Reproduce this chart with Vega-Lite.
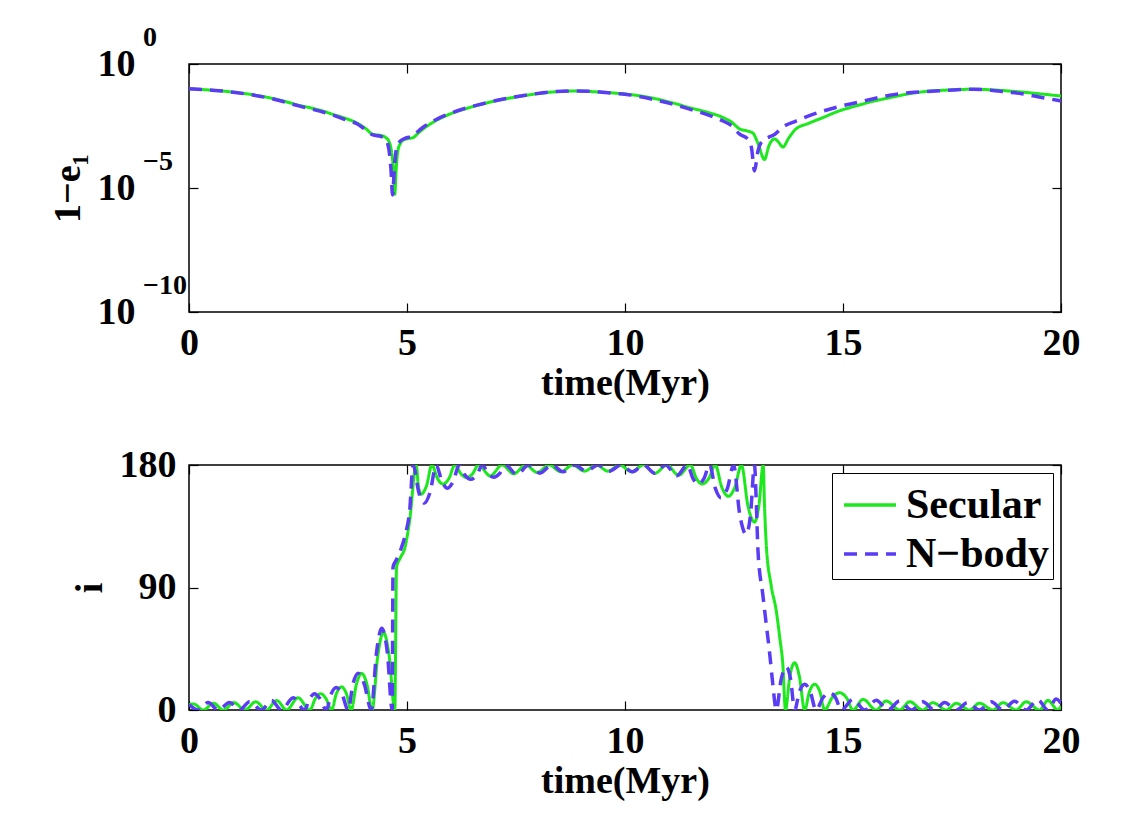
{
"$schema": "https://vega.github.io/schema/vega-lite/v6.json",
"background": "white",
"padding": {"left": 48, "top": 23, "right": 5, "bottom": 5},
"datasets": {
"exps": [{"time":0,"log_1me":0,"exp":"0"},{"time":0,"log_1me":-5,"exp":"−5"},{"time":0,"log_1me":-10,"exp":"−10"}],
"e": [
{"time":0,"log_1me":-1.0,"series":"Secular"},{"time":0.7,"log_1me":-1.08,"series":"Secular"},{"time":1.39,"log_1me":-1.22,"series":"Secular"},{"time":2.0,"log_1me":-1.42,"series":"Secular"},{"time":2.54,"log_1me":-1.67,"series":"Secular"},{"time":3.0,"log_1me":-1.86,"series":"Secular"},{"time":3.3,"log_1me":-2.03,"series":"Secular"},{"time":3.6,"log_1me":-2.2,"series":"Secular"},{"time":3.84,"log_1me":-2.37,"series":"Secular"},{"time":4.05,"log_1me":-2.6,"series":"Secular"},{"time":4.22,"log_1me":-2.84,"series":"Secular"},{"time":4.4,"log_1me":-2.88,"series":"Secular"},{"time":4.5,"log_1me":-2.95,"series":"Secular"},{"time":4.58,"log_1me":-3.1,"series":"Secular"},{"time":4.65,"log_1me":-3.6,"series":"Secular"},{"time":4.7,"log_1me":-4.5,"series":"Secular"},{"time":4.72,"log_1me":-5.25,"series":"Secular"},{"time":4.75,"log_1me":-4.3,"series":"Secular"},{"time":4.79,"log_1me":-3.5,"series":"Secular"},{"time":4.85,"log_1me":-3.2,"series":"Secular"},{"time":4.91,"log_1me":-3.07,"series":"Secular"},{"time":5.05,"log_1me":-3.0,"series":"Secular"},{"time":5.14,"log_1me":-2.97,"series":"Secular"},{"time":5.25,"log_1me":-2.8,"series":"Secular"},{"time":5.37,"log_1me":-2.62,"series":"Secular"},{"time":5.6,"log_1me":-2.35,"series":"Secular"},{"time":5.98,"log_1me":-2.02,"series":"Secular"},{"time":6.35,"log_1me":-1.8,"series":"Secular"},{"time":6.74,"log_1me":-1.61,"series":"Secular"},{"time":7.1,"log_1me":-1.46,"series":"Secular"},{"time":7.5,"log_1me":-1.33,"series":"Secular"},{"time":7.9,"log_1me":-1.22,"series":"Secular"},{"time":8.27,"log_1me":-1.14,"series":"Secular"},{"time":8.88,"log_1me":-1.09,"series":"Secular"},{"time":9.3,"log_1me":-1.12,"series":"Secular"},{"time":9.8,"log_1me":-1.18,"series":"Secular"},{"time":10.4,"log_1me":-1.3,"series":"Secular"},{"time":10.7,"log_1me":-1.4,"series":"Secular"},{"time":11.1,"log_1me":-1.57,"series":"Secular"},{"time":11.48,"log_1me":-1.76,"series":"Secular"},{"time":11.9,"log_1me":-1.95,"series":"Secular"},{"time":12.25,"log_1me":-2.16,"series":"Secular"},{"time":12.45,"log_1me":-2.35,"series":"Secular"},{"time":12.63,"log_1me":-2.62,"series":"Secular"},{"time":12.8,"log_1me":-2.7,"series":"Secular"},{"time":12.93,"log_1me":-2.78,"series":"Secular"},{"time":13.05,"log_1me":-3.2,"series":"Secular"},{"time":13.2,"log_1me":-3.85,"series":"Secular"},{"time":13.3,"log_1me":-3.3,"series":"Secular"},{"time":13.43,"log_1me":-3.02,"series":"Secular"},{"time":13.52,"log_1me":-3.15,"series":"Secular"},{"time":13.62,"log_1me":-3.35,"series":"Secular"},{"time":13.75,"log_1me":-3.0,"series":"Secular"},{"time":13.92,"log_1me":-2.62,"series":"Secular"},{"time":14.2,"log_1me":-2.4,"series":"Secular"},{"time":14.54,"log_1me":-2.16,"series":"Secular"},{"time":14.9,"log_1me":-1.9,"series":"Secular"},{"time":15.3,"log_1me":-1.69,"series":"Secular"},{"time":15.7,"log_1me":-1.5,"series":"Secular"},{"time":16.07,"log_1me":-1.36,"series":"Secular"},{"time":16.45,"log_1me":-1.22,"series":"Secular"},{"time":16.83,"log_1me":-1.12,"series":"Secular"},{"time":17.4,"log_1me":-1.05,"series":"Secular"},{"time":17.98,"log_1me":-1.02,"series":"Secular"},{"time":18.4,"log_1me":-1.04,"series":"Secular"},{"time":18.74,"log_1me":-1.08,"series":"Secular"},{"time":19.1,"log_1me":-1.13,"series":"Secular"},{"time":19.5,"log_1me":-1.2,"series":"Secular"},{"time":20.0,"log_1me":-1.29,"series":"Secular"},
{"time":0,"log_1me":-1.0,"series":"N−body"},{"time":0.7,"log_1me":-1.08,"series":"N−body"},{"time":1.39,"log_1me":-1.23,"series":"N−body"},{"time":2.0,"log_1me":-1.44,"series":"N−body"},{"time":2.54,"log_1me":-1.7,"series":"N−body"},{"time":3.0,"log_1me":-1.9,"series":"N−body"},{"time":3.3,"log_1me":-2.06,"series":"N−body"},{"time":3.6,"log_1me":-2.25,"series":"N−body"},{"time":3.84,"log_1me":-2.4,"series":"N−body"},{"time":4.05,"log_1me":-2.65,"series":"N−body"},{"time":4.22,"log_1me":-2.86,"series":"N−body"},{"time":4.4,"log_1me":-2.92,"series":"N−body"},{"time":4.5,"log_1me":-3.0,"series":"N−body"},{"time":4.58,"log_1me":-3.4,"series":"N−body"},{"time":4.63,"log_1me":-4.2,"series":"N−body"},{"time":4.67,"log_1me":-5.28,"series":"N−body"},{"time":4.71,"log_1me":-4.2,"series":"N−body"},{"time":4.76,"log_1me":-3.4,"series":"N−body"},{"time":4.85,"log_1me":-3.1,"series":"N−body"},{"time":4.95,"log_1me":-3.0,"series":"N−body"},{"time":5.05,"log_1me":-2.95,"series":"N−body"},{"time":5.14,"log_1me":-2.9,"series":"N−body"},{"time":5.25,"log_1me":-2.72,"series":"N−body"},{"time":5.37,"log_1me":-2.55,"series":"N−body"},{"time":5.6,"log_1me":-2.3,"series":"N−body"},{"time":5.98,"log_1me":-2.0,"series":"N−body"},{"time":6.35,"log_1me":-1.78,"series":"N−body"},{"time":6.74,"log_1me":-1.6,"series":"N−body"},{"time":7.1,"log_1me":-1.45,"series":"N−body"},{"time":7.5,"log_1me":-1.32,"series":"N−body"},{"time":7.9,"log_1me":-1.21,"series":"N−body"},{"time":8.27,"log_1me":-1.13,"series":"N−body"},{"time":8.88,"log_1me":-1.09,"series":"N−body"},{"time":9.3,"log_1me":-1.11,"series":"N−body"},{"time":9.8,"log_1me":-1.19,"series":"N−body"},{"time":10.0,"log_1me":-1.22,"series":"N−body"},{"time":10.7,"log_1me":-1.45,"series":"N−body"},{"time":11.1,"log_1me":-1.62,"series":"N−body"},{"time":11.48,"log_1me":-1.82,"series":"N−body"},{"time":11.9,"log_1me":-2.05,"series":"N−body"},{"time":12.25,"log_1me":-2.3,"series":"N−body"},{"time":12.45,"log_1me":-2.5,"series":"N−body"},{"time":12.63,"log_1me":-2.83,"series":"N−body"},{"time":12.8,"log_1me":-3.0,"series":"N−body"},{"time":12.9,"log_1me":-3.37,"series":"N−body"},{"time":12.97,"log_1me":-4.31,"series":"N−body"},{"time":13.05,"log_1me":-3.5,"series":"N−body"},{"time":13.15,"log_1me":-3.1,"series":"N−body"},{"time":13.3,"log_1me":-2.95,"series":"N−body"},{"time":13.43,"log_1me":-2.84,"series":"N−body"},{"time":13.62,"log_1me":-2.54,"series":"N−body"},{"time":13.92,"log_1me":-2.3,"series":"N−body"},{"time":14.2,"log_1me":-2.1,"series":"N−body"},{"time":14.54,"log_1me":-1.9,"series":"N−body"},{"time":14.9,"log_1me":-1.72,"series":"N−body"},{"time":15.3,"log_1me":-1.56,"series":"N−body"},{"time":15.7,"log_1me":-1.4,"series":"N−body"},{"time":16.07,"log_1me":-1.26,"series":"N−body"},{"time":16.45,"log_1me":-1.17,"series":"N−body"},{"time":16.83,"log_1me":-1.12,"series":"N−body"},{"time":17.4,"log_1me":-1.06,"series":"N−body"},{"time":17.98,"log_1me":-1.02,"series":"N−body"},{"time":18.4,"log_1me":-1.06,"series":"N−body"},{"time":18.74,"log_1me":-1.13,"series":"N−body"},{"time":19.1,"log_1me":-1.2,"series":"N−body"},{"time":19.5,"log_1me":-1.33,"series":"N−body"},{"time":20.0,"log_1me":-1.49,"series":"N−body"}
],
"inc": [
{"time":0,"inc":4,"series":"Secular"},{"time":0.1,"inc":4.5,"series":"Secular"},{"time":0.33,"inc":0,"series":"Secular"},{"time":0.56,"inc":5,"series":"Secular"},{"time":0.79,"inc":0,"series":"Secular"},{"time":1.03,"inc":5.5,"series":"Secular"},{"time":1.28,"inc":0,"series":"Secular"},{"time":1.53,"inc":6,"series":"Secular"},{"time":1.78,"inc":0,"series":"Secular"},{"time":2.01,"inc":7,"series":"Secular"},{"time":2.24,"inc":0,"series":"Secular"},{"time":2.5,"inc":9,"series":"Secular"},{"time":2.77,"inc":0,"series":"Secular"},{"time":2.9,"inc":8.5,"series":"Secular"},{"time":3.02,"inc":12,"series":"Secular"},{"time":3.14,"inc":8.5,"series":"Secular"},{"time":3.27,"inc":0,"series":"Secular"},{"time":3.38,"inc":12,"series":"Secular"},{"time":3.5,"inc":17,"series":"Secular"},{"time":3.61,"inc":12,"series":"Secular"},{"time":3.72,"inc":0,"series":"Secular"},{"time":3.84,"inc":19,"series":"Secular"},{"time":3.96,"inc":27,"series":"Secular"},{"time":4.08,"inc":19,"series":"Secular"},{"time":4.2,"inc":0,"series":"Secular"},{"time":4.33,"inc":40,"series":"Secular"},{"time":4.46,"inc":57,"series":"Secular"},{"time":4.59,"inc":40,"series":"Secular"},{"time":4.72,"inc":0,"series":"Secular"},{"time":4.76,"inc":105,"series":"Secular"},{"time":4.85,"inc":112,"series":"Secular"},{"time":4.95,"inc":119,"series":"Secular"},{"time":5.06,"inc":139,"series":"Secular"},{"time":5.21,"inc":180,"series":"Secular"},{"time":5.26,"inc":165,"series":"Secular"},{"time":5.32,"inc":158.5,"series":"Secular"},{"time":5.45,"inc":165,"series":"Secular"},{"time":5.57,"inc":180,"series":"Secular"},{"time":5.7,"inc":170,"series":"Secular"},{"time":5.83,"inc":166,"series":"Secular"},{"time":5.96,"inc":170,"series":"Secular"},{"time":6.1,"inc":180,"series":"Secular"},{"time":6.24,"inc":173.4,"series":"Secular"},{"time":6.37,"inc":170.7,"series":"Secular"},{"time":6.5,"inc":173.4,"series":"Secular"},{"time":6.64,"inc":180,"series":"Secular"},{"time":6.91,"inc":172,"series":"Secular"},{"time":7.18,"inc":180,"series":"Secular"},{"time":7.45,"inc":173.5,"series":"Secular"},{"time":7.72,"inc":180,"series":"Secular"},{"time":7.99,"inc":174.5,"series":"Secular"},{"time":8.26,"inc":180,"series":"Secular"},{"time":8.53,"inc":175,"series":"Secular"},{"time":8.8,"inc":180,"series":"Secular"},{"time":9.07,"inc":175.5,"series":"Secular"},{"time":9.34,"inc":180,"series":"Secular"},{"time":9.61,"inc":175.5,"series":"Secular"},{"time":9.88,"inc":180,"series":"Secular"},{"time":10.15,"inc":175,"series":"Secular"},{"time":10.42,"inc":180,"series":"Secular"},{"time":10.69,"inc":174,"series":"Secular"},{"time":10.96,"inc":180,"series":"Secular"},{"time":11.23,"inc":172.5,"series":"Secular"},{"time":11.5,"inc":180,"series":"Secular"},{"time":11.64,"inc":170,"series":"Secular"},{"time":11.77,"inc":166,"series":"Secular"},{"time":11.92,"inc":170,"series":"Secular"},{"time":12.07,"inc":180,"series":"Secular"},{"time":12.22,"inc":163.7,"series":"Secular"},{"time":12.37,"inc":157,"series":"Secular"},{"time":12.52,"inc":163.7,"series":"Secular"},{"time":12.67,"inc":180,"series":"Secular"},{"time":12.82,"inc":150,"series":"Secular"},{"time":12.97,"inc":138,"series":"Secular"},{"time":13.07,"inc":150,"series":"Secular"},{"time":13.17,"inc":180,"series":"Secular"},{"time":13.2,"inc":150,"series":"Secular"},{"time":13.24,"inc":121.7,"series":"Secular"},{"time":13.35,"inc":92,"series":"Secular"},{"time":13.47,"inc":72.7,"series":"Secular"},{"time":13.55,"inc":53,"series":"Secular"},{"time":13.62,"inc":33.5,"series":"Secular"},{"time":13.68,"inc":0,"series":"Secular"},{"time":13.78,"inc":24.6,"series":"Secular"},{"time":13.89,"inc":34.8,"series":"Secular"},{"time":14.0,"inc":24.6,"series":"Secular"},{"time":14.12,"inc":0,"series":"Secular"},{"time":14.23,"inc":13.4,"series":"Secular"},{"time":14.35,"inc":18.9,"series":"Secular"},{"time":14.47,"inc":13.4,"series":"Secular"},{"time":14.58,"inc":0,"series":"Secular"},{"time":14.75,"inc":9,"series":"Secular"},{"time":14.92,"inc":12.7,"series":"Secular"},{"time":15.08,"inc":9,"series":"Secular"},{"time":15.23,"inc":0,"series":"Secular"},{"time":15.46,"inc":7.8,"series":"Secular"},{"time":15.76,"inc":0,"series":"Secular"},{"time":15.99,"inc":6.6,"series":"Secular"},{"time":16.3,"inc":0,"series":"Secular"},{"time":16.53,"inc":6.1,"series":"Secular"},{"time":16.83,"inc":0,"series":"Secular"},{"time":17.06,"inc":5.4,"series":"Secular"},{"time":17.37,"inc":0,"series":"Secular"},{"time":17.6,"inc":4.9,"series":"Secular"},{"time":17.9,"inc":0,"series":"Secular"},{"time":18.13,"inc":5,"series":"Secular"},{"time":18.44,"inc":0,"series":"Secular"},{"time":18.67,"inc":5.4,"series":"Secular"},{"time":18.97,"inc":0,"series":"Secular"},{"time":19.2,"inc":6,"series":"Secular"},{"time":19.51,"inc":0,"series":"Secular"},{"time":19.7,"inc":7,"series":"Secular"},{"time":19.93,"inc":0,"series":"Secular"},{"time":20.0,"inc":3,"series":"Secular"},
{"time":0,"inc":4,"series":"N−body"},{"time":0.21,"inc":0,"series":"N−body"},{"time":0.44,"inc":5.5,"series":"N−body"},{"time":0.67,"inc":0,"series":"N−body"},{"time":0.93,"inc":5.5,"series":"N−body"},{"time":1.16,"inc":0,"series":"N−body"},{"time":1.39,"inc":6,"series":"N−body"},{"time":1.66,"inc":0,"series":"N−body"},{"time":1.89,"inc":7,"series":"N−body"},{"time":2.12,"inc":0,"series":"N−body"},{"time":2.39,"inc":9,"series":"N−body"},{"time":2.65,"inc":0,"series":"N−body"},{"time":2.77,"inc":8.5,"series":"N−body"},{"time":2.88,"inc":12,"series":"N−body"},{"time":3.0,"inc":8.5,"series":"N−body"},{"time":3.15,"inc":0,"series":"N−body"},{"time":3.26,"inc":11.7,"series":"N−body"},{"time":3.38,"inc":16.5,"series":"N−body"},{"time":3.51,"inc":11.7,"series":"N−body"},{"time":3.65,"inc":0,"series":"N−body"},{"time":3.76,"inc":19,"series":"N−body"},{"time":3.88,"inc":27,"series":"N−body"},{"time":4.02,"inc":19,"series":"N−body"},{"time":4.18,"inc":0,"series":"N−body"},{"time":4.3,"inc":42,"series":"N−body"},{"time":4.42,"inc":60,"series":"N−body"},{"time":4.55,"inc":42,"series":"N−body"},{"time":4.66,"inc":0,"series":"N−body"},{"time":4.68,"inc":105,"series":"N−body"},{"time":4.75,"inc":110,"series":"N−body"},{"time":4.87,"inc":119,"series":"N−body"},{"time":4.97,"inc":130,"series":"N−body"},{"time":5.06,"inc":146,"series":"N−body"},{"time":5.14,"inc":180,"series":"N−body"},{"time":5.27,"inc":160,"series":"N−body"},{"time":5.4,"inc":152,"series":"N−body"},{"time":5.53,"inc":160,"series":"N−body"},{"time":5.67,"inc":180,"series":"N−body"},{"time":5.8,"inc":168,"series":"N−body"},{"time":5.93,"inc":163,"series":"N−body"},{"time":6.06,"inc":168,"series":"N−body"},{"time":6.2,"inc":180,"series":"N−body"},{"time":6.33,"inc":172.6,"series":"N−body"},{"time":6.46,"inc":169.5,"series":"N−body"},{"time":6.6,"inc":172.6,"series":"N−body"},{"time":6.73,"inc":180,"series":"N−body"},{"time":6.86,"inc":173.6,"series":"N−body"},{"time":6.99,"inc":171,"series":"N−body"},{"time":7.12,"inc":173.6,"series":"N−body"},{"time":7.26,"inc":180,"series":"N−body"},{"time":7.52,"inc":173,"series":"N−body"},{"time":7.79,"inc":180,"series":"N−body"},{"time":8.05,"inc":174,"series":"N−body"},{"time":8.32,"inc":180,"series":"N−body"},{"time":8.58,"inc":175,"series":"N−body"},{"time":8.85,"inc":180,"series":"N−body"},{"time":9.11,"inc":175.5,"series":"N−body"},{"time":9.38,"inc":180,"series":"N−body"},{"time":9.64,"inc":175.5,"series":"N−body"},{"time":9.91,"inc":180,"series":"N−body"},{"time":10.17,"inc":175,"series":"N−body"},{"time":10.43,"inc":180,"series":"N−body"},{"time":10.68,"inc":174,"series":"N−body"},{"time":10.93,"inc":180,"series":"N−body"},{"time":11.18,"inc":172,"series":"N−body"},{"time":11.43,"inc":180,"series":"N−body"},{"time":11.56,"inc":170,"series":"N−body"},{"time":11.68,"inc":166,"series":"N−body"},{"time":11.81,"inc":170,"series":"N−body"},{"time":11.94,"inc":180,"series":"N−body"},{"time":12.07,"inc":163,"series":"N−body"},{"time":12.2,"inc":156,"series":"N−body"},{"time":12.35,"inc":163,"series":"N−body"},{"time":12.49,"inc":180,"series":"N−body"},{"time":12.63,"inc":144,"series":"N−body"},{"time":12.78,"inc":129,"series":"N−body"},{"time":12.88,"inc":144,"series":"N−body"},{"time":12.97,"inc":180,"series":"N−body"},{"time":13.01,"inc":153.5,"series":"N−body"},{"time":13.05,"inc":117,"series":"N−body"},{"time":13.16,"inc":85,"series":"N−body"},{"time":13.24,"inc":63,"series":"N−body"},{"time":13.32,"inc":41,"series":"N−body"},{"time":13.39,"inc":19,"series":"N−body"},{"time":13.47,"inc":0,"series":"N−body"},{"time":13.58,"inc":22.3,"series":"N−body"},{"time":13.7,"inc":31.6,"series":"N−body"},{"time":13.8,"inc":22.3,"series":"N−body"},{"time":13.89,"inc":0,"series":"N−body"},{"time":14.0,"inc":13.4,"series":"N−body"},{"time":14.12,"inc":18.9,"series":"N−body"},{"time":14.25,"inc":13.4,"series":"N−body"},{"time":14.38,"inc":0,"series":"N−body"},{"time":14.54,"inc":9,"series":"N−body"},{"time":14.69,"inc":12.7,"series":"N−body"},{"time":14.83,"inc":9,"series":"N−body"},{"time":14.96,"inc":0,"series":"N−body"},{"time":15.23,"inc":7.8,"series":"N−body"},{"time":15.5,"inc":0,"series":"N−body"},{"time":15.76,"inc":7.1,"series":"N−body"},{"time":16.03,"inc":0,"series":"N−body"},{"time":16.3,"inc":6.6,"series":"N−body"},{"time":16.57,"inc":0,"series":"N−body"},{"time":16.83,"inc":6,"series":"N−body"},{"time":17.1,"inc":0,"series":"N−body"},{"time":17.33,"inc":5.5,"series":"N−body"},{"time":17.6,"inc":0,"series":"N−body"},{"time":17.86,"inc":5.5,"series":"N−body"},{"time":18.13,"inc":0,"series":"N−body"},{"time":18.4,"inc":6,"series":"N−body"},{"time":18.67,"inc":0,"series":"N−body"},{"time":18.93,"inc":6.5,"series":"N−body"},{"time":19.2,"inc":0,"series":"N−body"},{"time":19.47,"inc":7.5,"series":"N−body"},{"time":19.7,"inc":0,"series":"N−body"},{"time":19.89,"inc":8,"series":"N−body"},{"time":20.0,"inc":5,"series":"N−body"}
]
},
"vconcat": [
{
"width": 872, "height": 248,
"layer": [
{"data": {"name": "e"}, "transform": [{"filter": "datum.series === 'Secular'"}],
 "mark": {"type": "line", "clip": true, "strokeWidth": 3, "interpolate": "monotone"},
 "encoding": {
  "x": {"field": "time", "type": "quantitative", "scale": {"domain": [0, 20]}, "axis": {"values": [0, 5, 10, 15, 20], "title": "time(Myr)"}},
  "y": {"field": "log_1me", "type": "quantitative", "scale": {"domain": [-10, 0]}, "axis": {"values": [-10, -5, 0], "title": "1−e₁", "labelExpr": "'10'", "labelPadding": 63}},
  "color": {"field": "series", "type": "nominal", "scale": {"domain": ["Secular", "N−body"], "range": ["#1de81d", "#5a3cf5"]}, "legend": null},
  "strokeDash": {"field": "series", "type": "nominal", "scale": {"domain": ["Secular", "N−body"], "range": [[1, 0], [13, 8]]}, "legend": null}
 }},
{"data": {"name": "e"}, "transform": [{"filter": "datum.series !== 'Secular'"}],
 "mark": {"type": "line", "clip": true, "strokeWidth": 3.5, "interpolate": "monotone"},
 "encoding": {
  "x": {"field": "time", "type": "quantitative", "scale": {"domain": [0, 20]}, "axis": null},
  "y": {"field": "log_1me", "type": "quantitative", "scale": {"domain": [-10, 0]}, "axis": null},
  "color": {"field": "series", "type": "nominal", "scale": {"domain": ["Secular", "N−body"], "range": ["#1de81d", "#5a3cf5"]}, "legend": null},
  "strokeDash": {"field": "series", "type": "nominal", "scale": {"domain": ["Secular", "N−body"], "range": [[1, 0], [13, 8]]}, "legend": null}
 }},
{"data": {"name": "exps"},
 "mark": {"type": "text", "align": "left", "baseline": "middle", "dx": -46, "dy": -26, "fontSize": 28, "fontWeight": "bold", "font": "Liberation Serif, Times New Roman, serif", "color": "black", "clip": false},
 "encoding": {
  "x": {"field": "time", "type": "quantitative", "scale": {"domain": [0, 20]}, "axis": null},
  "y": {"field": "log_1me", "type": "quantitative", "scale": {"domain": [-10, 0]}, "axis": null},
  "text": {"field": "exp"}
 }},
{"data": {"name": "e"}, "mark": {"type": "line", "opacity": 0},
 "encoding": {
  "x": {"field": "time", "type": "quantitative", "scale": {"domain": [0, 20]}, "axis": {"orient": "top", "values": [0, 5, 10, 15, 20], "labels": false, "title": null}},
  "y": {"field": "log_1me", "type": "quantitative", "scale": {"domain": [-10, 0]}, "axis": {"orient": "right", "values": [-10, -5, 0], "labels": false, "title": null}}
 }}
],
"resolve": {"axis": {"x": "independent", "y": "independent"}}
},
{
"width": 872, "height": 245,
"data": {"name": "inc"},
"layer": [
{"transform": [{"filter": "datum.series === 'Secular'"}],
 "mark": {"type": "line", "clip": true, "strokeWidth": 3, "interpolate": "monotone"},
 "encoding": {
  "x": {"field": "time", "type": "quantitative", "scale": {"domain": [0, 20]}, "axis": {"values": [0, 5, 10, 15, 20], "title": "time(Myr)"}},
  "y": {"field": "inc", "type": "quantitative", "scale": {"domain": [0, 180]}, "axis": {"values": [0, 90, 180], "title": "i"}},
  "color": {"field": "series", "type": "nominal", "scale": {"domain": ["Secular", "N−body"], "range": ["#1de81d", "#5a3cf5"]}, "legend": {"title": null}},
  "strokeDash": {"field": "series", "type": "nominal", "scale": {"domain": ["Secular", "N−body"], "range": [[1, 0], [13, 8]]}, "legend": {"title": null}}
 }},
{"transform": [{"filter": "datum.series !== 'Secular'"}],
 "mark": {"type": "line", "clip": true, "strokeWidth": 3.5, "interpolate": "monotone"},
 "encoding": {
  "x": {"field": "time", "type": "quantitative", "scale": {"domain": [0, 20]}, "axis": null},
  "y": {"field": "inc", "type": "quantitative", "scale": {"domain": [0, 180]}, "axis": null},
  "color": {"field": "series", "type": "nominal", "scale": {"domain": ["Secular", "N−body"], "range": ["#1de81d", "#5a3cf5"]}, "legend": {"title": null}},
  "strokeDash": {"field": "series", "type": "nominal", "scale": {"domain": ["Secular", "N−body"], "range": [[1, 0], [13, 8]]}, "legend": {"title": null}}
 }},
{"mark": {"type": "line", "opacity": 0},
 "encoding": {
  "x": {"field": "time", "type": "quantitative", "scale": {"domain": [0, 20]}, "axis": {"orient": "top", "values": [0, 5, 10, 15, 20], "labels": false, "title": null}},
  "y": {"field": "inc", "type": "quantitative", "scale": {"domain": [0, 180]}, "axis": {"orient": "right", "values": [0, 90, 180], "labels": false, "title": null}}
 }}
],
"resolve": {"axis": {"x": "independent", "y": "independent"}}
}
],
"spacing": 42,
"resolve": {"legend": {"color": "independent", "strokeDash": "independent"}},
"config": {
 "font": "Liberation Serif, Times New Roman, serif",
 "view": {"stroke": "black", "strokeWidth": 1.5},
 "axis": {"domain": false, "grid": false, "labelFont": "Liberation Serif, Times New Roman, serif", "labelFontWeight": "bold", "labelFontSize": 38, "labelColor": "black", "titleFont": "Liberation Serif, Times New Roman, serif", "titleFontWeight": "bold", "titleFontSize": 38, "titleColor": "black", "tickColor": "black", "tickWidth": 1.2, "tickSize": -9, "labelFlush": false, "labelOverlap": false, "titlePadding": 2},
 "axisX": {"labelPadding": 21},
 "axisY": {"labelPadding": 22, "titlePadding": 10},
 "legend": {"orient": "top-right", "offset": 8, "strokeColor": "black", "fillColor": "white", "padding": 4, "labelFont": "Liberation Serif, Times New Roman, serif", "labelFontWeight": "bold", "labelFontSize": 42, "labelColor": "black", "symbolType": "stroke", "symbolSize": 2704, "symbolStrokeWidth": 3.5, "symbolOffset": 6, "rowPadding": -3, "labelOffset": 8}
}
}
